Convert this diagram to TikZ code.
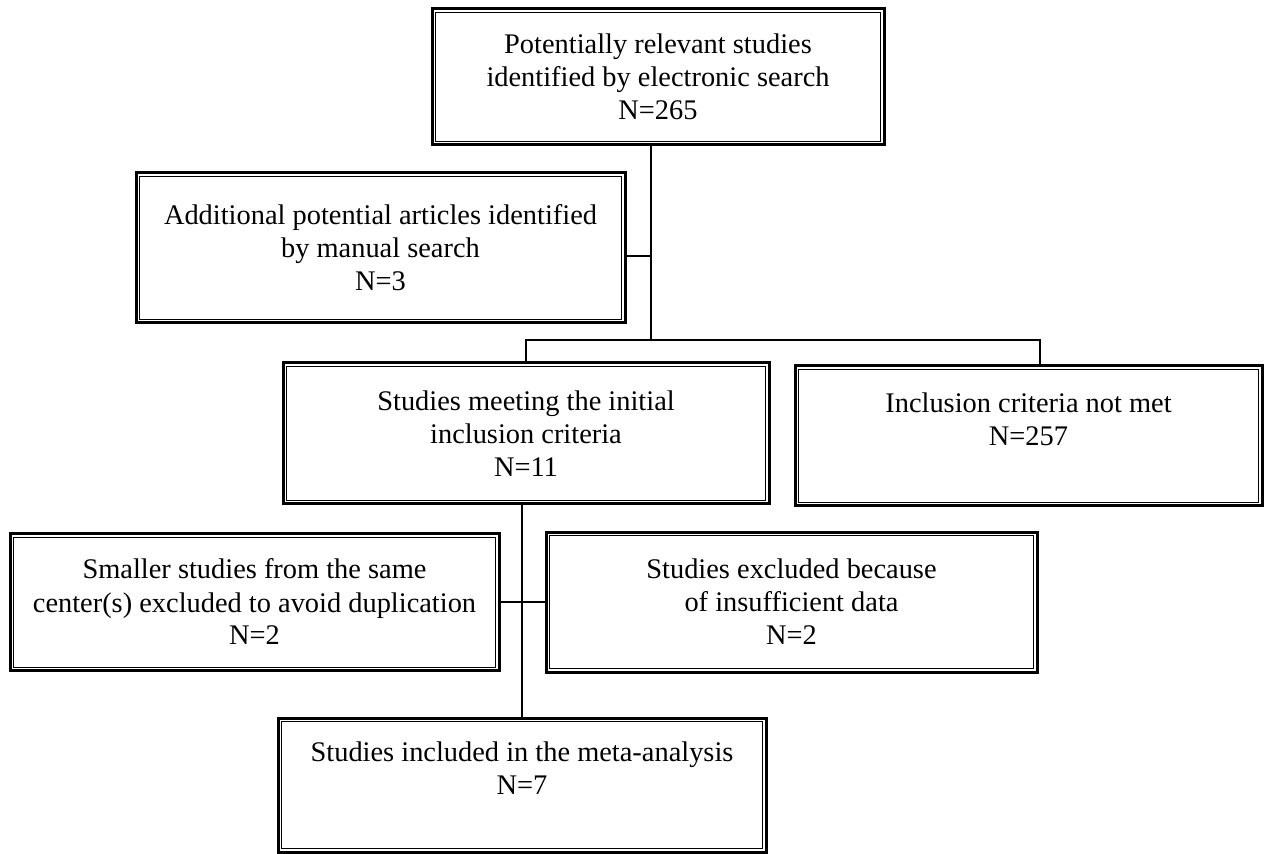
\documentclass[tikz,border=0pt]{standalone}
\usepackage{fontspec}
\setmainfont{Liberation Serif}

\begin{document}
\begin{tikzpicture}[x=0.5pt,y=-0.5pt,line width=0.6pt,
  dbox/.style={draw,line width=1.5pt,align=center,inner sep=0pt,
    font=\fontsize{14.2}{16.5}\selectfont,
    append after command={\pgfextra{\draw[line width=0.5pt]
      ([shift={(2.5pt,2.5pt)}]\tikzlastnode.south west) rectangle
      ([shift={(-2.5pt,-2.5pt)}]\tikzlastnode.north east);}}}]
  \fill[white] (0,0) rectangle (1288,854);
  \useasboundingbox (0,0) rectangle (1288,854);

  \node[dbox,minimum width=226pt,minimum height=68pt] (search) at (658,77)
    {Potentially relevant studies\\identified by electronic search\\N=265};
  \node[dbox,minimum width=244.5pt,minimum height=75pt] (manual) at (380.5,248)
    {Additional potential articles identified\\by manual search\\N=3};
  \node[dbox,minimum width=243pt,minimum height=70.5pt] (initial) at (526,433.5)
    {Studies meeting the initial\\inclusion criteria\\N=11};
  \node[dbox,minimum width=233.5pt,minimum height=70pt] (notmet) at (1028.5,436)
    {Inclusion criteria not met\\N=257\\~};
  \node[dbox,minimum width=244.5pt,minimum height=68.5pt] (dupl) at (254.5,602)
    {Smaller studies from the same\\center(s) excluded to avoid duplication\\N=2};
  \node[dbox,minimum width=245.5pt,minimum height=70pt] (insuff) at (791.5,602)
    {Studies excluded because\\of insufficient data\\N=2};
  \node[dbox,minimum width=244pt,minimum height=67pt] (meta) at (522,785)
    {Studies included in the meta-analysis\\N=7\\~};

  % joints
  \coordinate (split) at (651,340);
  \coordinate (left) at (526,340);
  \coordinate (right) at (1040,340);

  \draw (search.south -| split) -- (split);
  \draw ([yshift=-4pt]manual.east) coordinate (m) -- (m -| split);
  \draw (initial.north) -- (left) -- (right) -- (right |- notmet.north);
  \draw (meta.north |- initial.south) -- (meta.north);
  \draw (dupl.east) -- (dupl.east -| insuff.west);
\end{tikzpicture}
\end{document}
